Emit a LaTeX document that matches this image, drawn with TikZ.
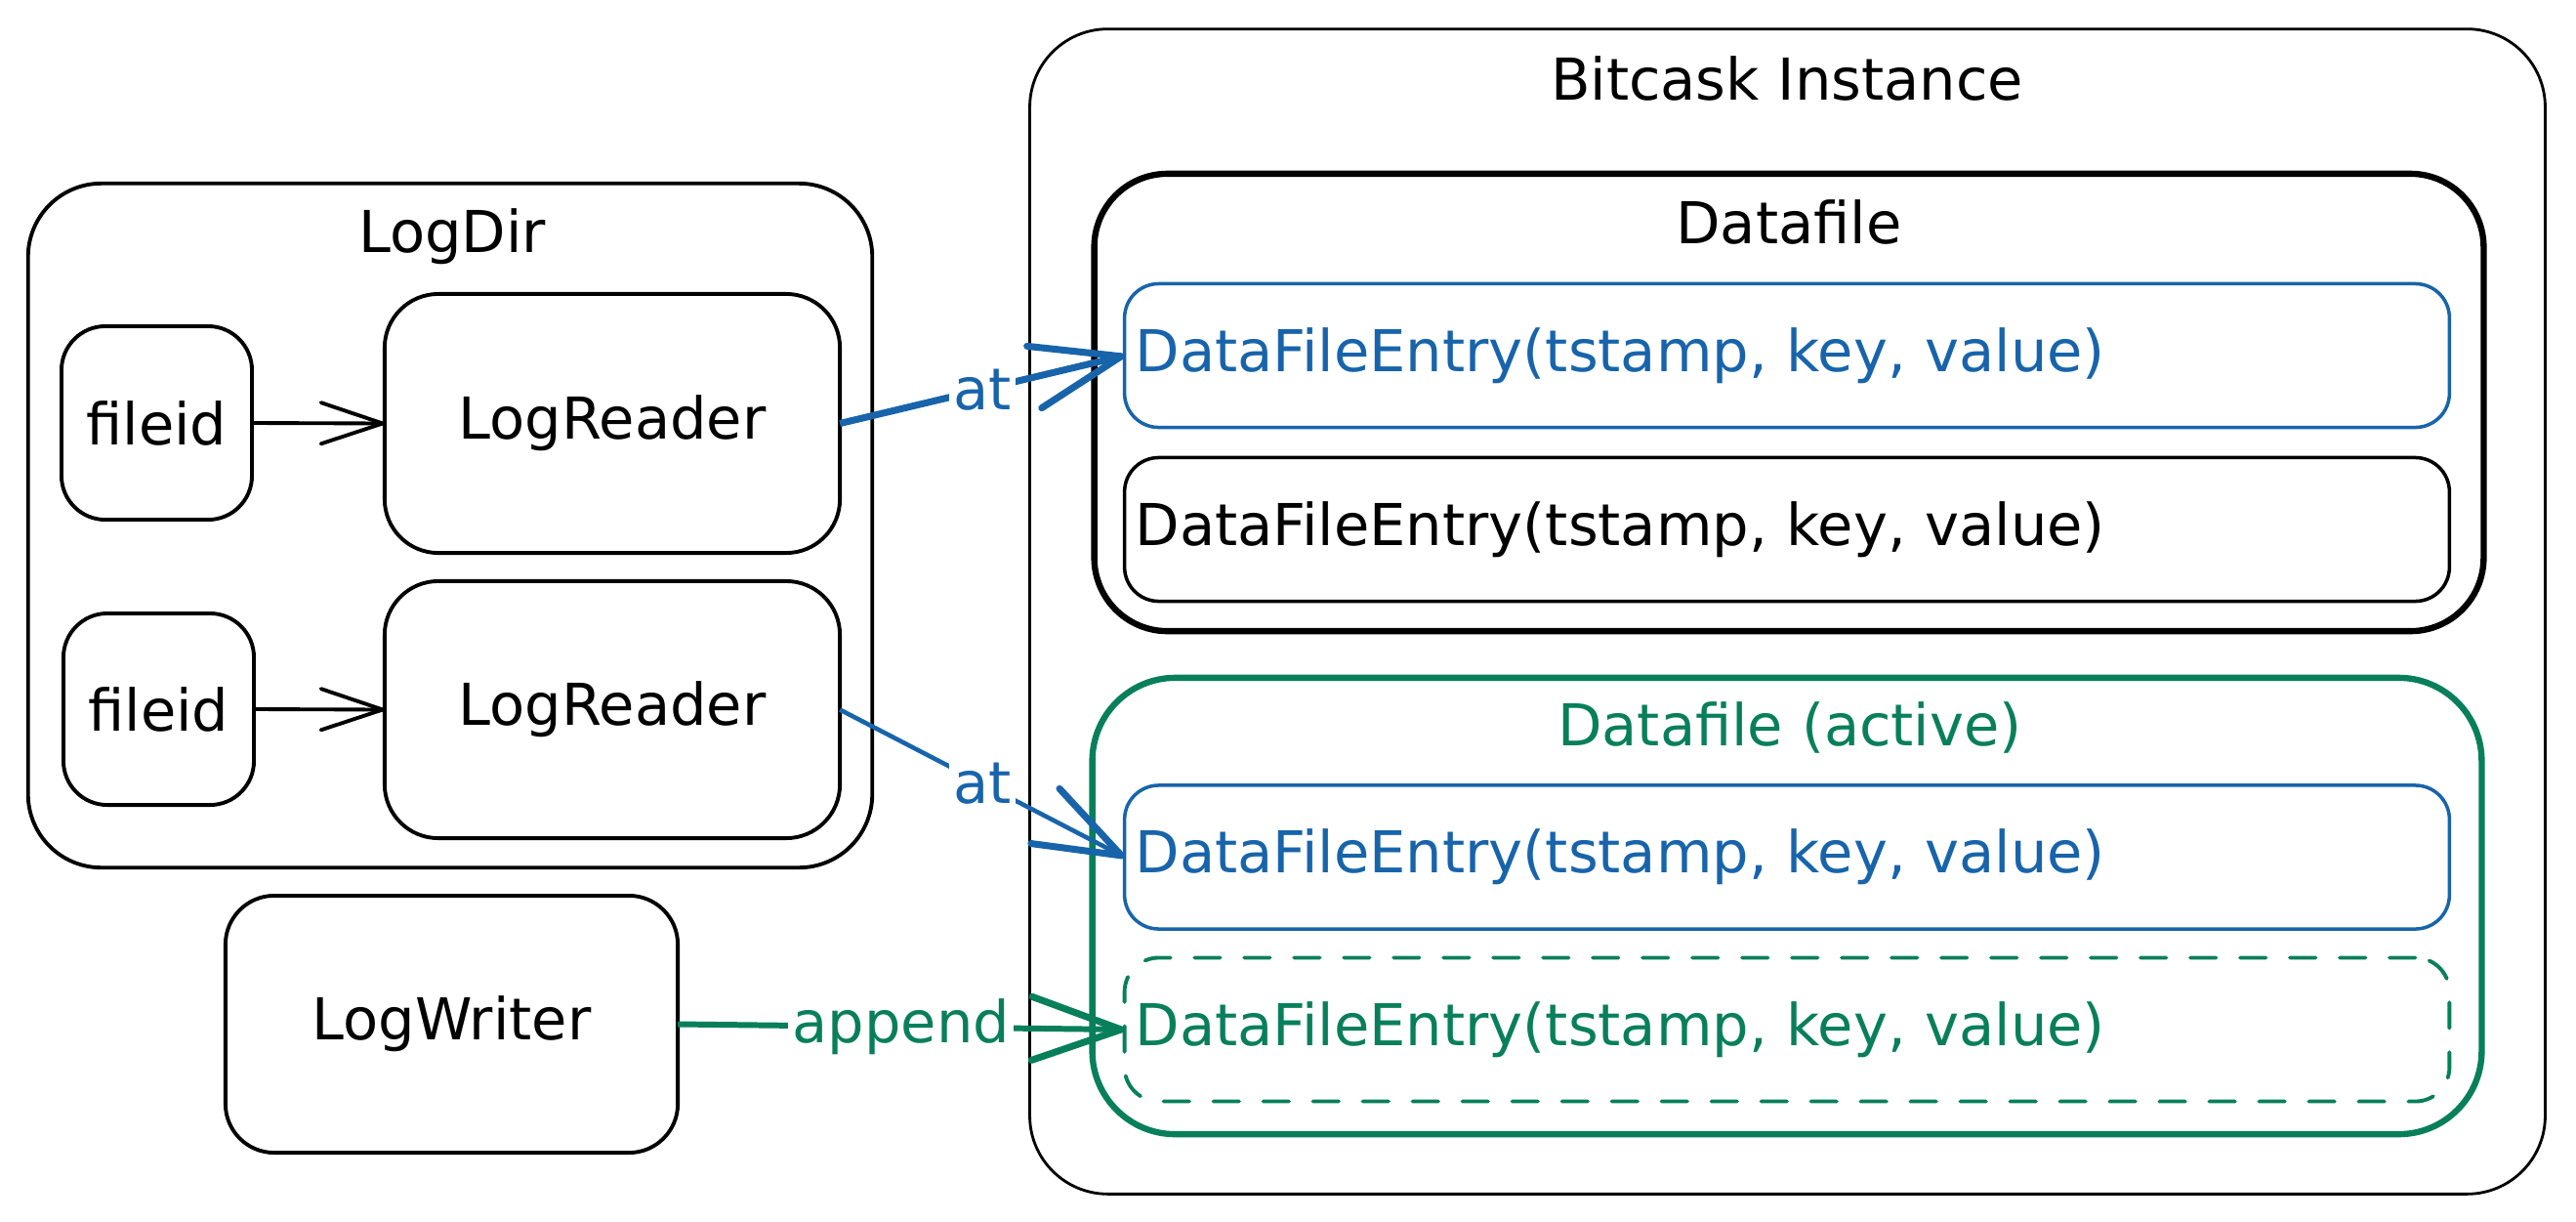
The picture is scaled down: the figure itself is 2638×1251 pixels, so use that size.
\documentclass[tikz,border=0pt]{standalone}
\usepackage{fontspec}
\setmainfont{DejaVu Sans}
\usetikzlibrary{arrows.meta}
\definecolor{exblue}{HTML}{1864AB}
\definecolor{exgreen}{HTML}{087F5B}
\begin{document}
\begin{tikzpicture}[x=0.01cm, y=-0.01cm,
  font=\fontsize{16.8pt}{20pt}\selectfont,
  sketch/.style={draw=black, line width=1.1pt, inner sep=0pt, outer sep=0pt, align=center},
  title/.style={anchor=base, inner sep=0pt},
  entry/.style={draw, line width=1pt, rounded corners=0.35cm, minimum height=1.47cm,
    text width=13.34cm, inner xsep=0.11cm, inner ysep=0pt, align=left, outer sep=0pt},
  lab/.style={fill=white, inner sep=1.2pt},
  smallarrow/.style={line width=1.1pt, -{Straight Barb[length=18pt, width=12pt, line width=1.1pt, round]}},
  bigarrow/.style={line width=2pt, -{Straight Barb[length=26pt, width=18.5pt, line width=2pt, round]}},
  midarrow/.style={line width=1.3pt, -{Straight Barb[length=25pt, width=18pt, line width=2pt, round]}}
]
\useasboundingbox[fill=white] (0,0) rectangle (2638,1251);

% Bitcask instance
\node[sketch, line width=0.8pt, rounded corners=0.8cm, minimum width=15.51cm, minimum height=11.92cm] (bitcask) at (1830.5,626) {};
\node[title] (bitcasktitle) at (1830,102) {Bitcask Instance};

% Datafile
\node[sketch, line width=1.8pt, rounded corners=0.75cm, minimum width=14.22cm, minimum height=4.68cm] (datafile) at (1832,412) {};
\node[title] (datafiletitle) at (1832,249) {Datafile};
\node[entry, draw=exblue, text=exblue] (e1) at (1830,364) {DataFileEntry(tstamp, key, value)};
\node[entry, draw=black, text=black] (e2) at (1830,542) {DataFileEntry(tstamp, key, value)};

% Datafile (active)
\node[sketch, draw=exgreen, line width=1.8pt, rounded corners=0.85cm, minimum width=14.22cm, minimum height=4.67cm] (active) at (1830,927.5) {};
\node[title, text=exgreen] (activetitle) at (1833,763) {Datafile (active)};
\node[entry, draw=exblue, text=exblue] (e3) at (1830,877.5) {DataFileEntry(tstamp, key, value)};
\node[entry, draw=exgreen, text=exgreen, line width=1.1pt, dash pattern=on 7.5pt off 7pt, line cap=round] (e4) at (1830,1054) {DataFileEntry(tstamp, key, value)};

% LogDir
\node[sketch, rounded corners=0.75cm, minimum width=8.64cm, minimum height=7.00cm] (logdir) at (461,538) {};
\node[title] (logdirtitle) at (463,258) {LogDir};
\node[sketch, rounded corners=0.45cm, minimum width=1.95cm, minimum height=1.98cm] (f1) at (160.5,433) {fileid};
\node[sketch, rounded corners=0.55cm, minimum width=4.66cm, minimum height=2.65cm] (lr1) at (627,433.5) {LogReader};
\node[sketch, rounded corners=0.45cm, minimum width=1.95cm, minimum height=1.96cm] (f2) at (162.5,726) {fileid};
\node[sketch, rounded corners=0.55cm, minimum width=4.66cm, minimum height=2.63cm] (lr2) at (627,726.5) {LogReader};

% LogWriter
\node[sketch, rounded corners=0.5cm, minimum width=4.63cm, minimum height=2.63cm] (lw) at (462.5,1048.5) {LogWriter};

% connectors
\draw[smallarrow] (f1.east) -- (lr1.west);
\draw[smallarrow] (f2.east) -- (lr2.west);
\draw[bigarrow, draw=exblue] (lr1.east) -- node[lab, text=exblue] {at} (e1.west);
\draw[midarrow, draw=exblue] (lr2.east) -- node[lab, text=exblue] {at} (e3.west);
\draw[bigarrow, draw=exgreen, line width=1.7pt] (lw.east) -- node[lab, text=exgreen] {append} (e4.west);
\end{tikzpicture}
\end{document}
